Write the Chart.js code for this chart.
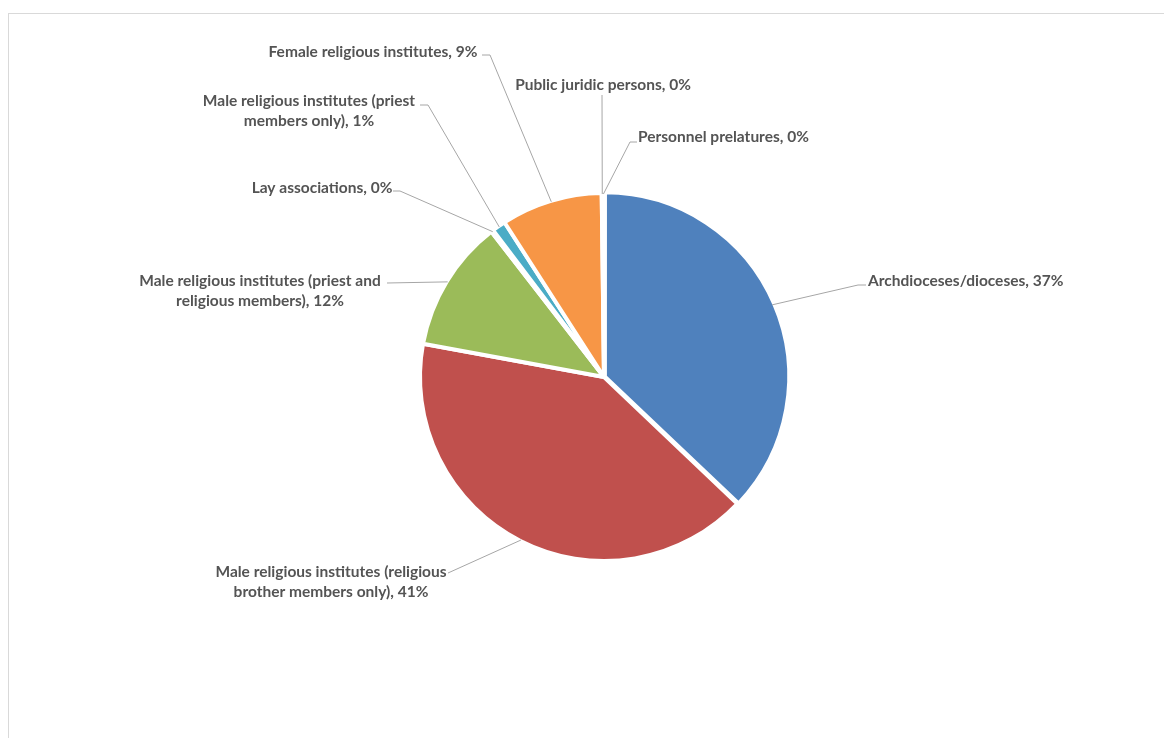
<!DOCTYPE html>
<html>
<head>
<meta charset="utf-8">
<script src="https://cdn.jsdelivr.net/npm/chart.js@4.4.1/dist/chart.umd.min.js"></script>
<style>
    html, body { margin: 0; padding: 0; background: #fff; overflow: hidden; }
    #frame {
        position: absolute; left: 8px; top: 13px; width: 1200px; height: 800px;
        border: 1px solid #d9d9d9; box-sizing: border-box;
    }
    #wrap { position: absolute; left: 0; top: 0; width: 1164px; height: 738px; }
</style>
</head>
<body>
<div id="frame"></div>
<div id="wrap"><canvas id="pieChart"></canvas></div>
<script>
const categories = [
    'Archdioceses/dioceses',
    'Male religious institutes (religious brother members only)',
    'Male religious institutes (priest and religious members)',
    'Lay associations',
    'Male religious institutes (priest members only)',
    'Female religious institutes',
    'Public juridic persons',
    'Personnel prelatures'
];
const shares = [37.1, 40.8, 11.6, 0.2, 1.2, 8.9, 0.1, 0.1];
const colors = ['#4f81bd', '#c0504d', '#9bbb59', '#8064a2', '#4bacc6', '#f79646', '#2c4d75', '#772c2a'];

// label text lines (wrapped as in the original)
const labelLines = [
    ['Archdioceses/dioceses, {p}'],
    ['Male religious institutes (religious', 'brother members only), {p}'],
    ['Male religious institutes (priest and', 'religious members), {p}'],
    ['Lay associations, {p}'],
    ['Male religious institutes (priest', 'members only), {p}'],
    ['Female religious institutes, {p}'],
    ['Public juridic persons, {p}'],
    ['Personnel prelatures, {p}']
];

// label placement relative to pie centre: text anchor, align, leader end points
const labelLayout = [
    { tx: 264, ty: -96, align: 'left', pts: [[254, -92], [262, -92]] },
    { tx: -273, ty: 195, align: 'center', pts: [[-156, 196]] },
    { tx: -344, ty: -96, align: 'center', pts: [[-217, -94]] },
    { tx: -282, ty: -189, align: 'center', pts: [[-204, -186], [-211, -186]] },
    { tx: -295, ty: -276, align: 'center', pts: [[-176, -272], [-184, -272]] },
    { tx: -231, ty: -325, align: 'center', pts: [[-114, -322], [-122, -322]] },
    { tx: -1, ty: -292, align: 'center', pts: [[-2, -282]] },
    { tx: 34, ty: -240, align: 'left', pts: [[26, -235], [33, -235]] }
];

const total = shares.reduce((a, b) => a + b, 0);

const leaderLabels = {
    id: 'leaderLabels',
    afterDatasetsDraw(chart) {
        const c = chart.ctx;
        const arcs = chart.getDatasetMeta(0).data;
        c.save();
        arcs.forEach((arc, i) => {
            const p = arc.getProps(['x', 'y', 'startAngle', 'endAngle', 'outerRadius'], true);
            const cx = chart.chartArea.left + chart.chartArea.width / 2;
            const cy = chart.chartArea.top + chart.chartArea.height / 2;
            const mid = (p.startAngle + p.endAngle) / 2;
            const lay = labelLayout[i];
            const ax = p.x + Math.cos(mid) * (p.outerRadius - 1);
            const ay = p.y + Math.sin(mid) * (p.outerRadius - 1);

            c.strokeStyle = '#a6a6a6';
            c.lineWidth = 1;
            c.beginPath();
            c.moveTo(ax, ay);
            lay.pts.forEach(pt => c.lineTo(cx + pt[0], cy + pt[1]));
            c.stroke();

            const pct = Math.round(shares[i] / total * 100) + '%';
            c.fillStyle = '#545454';
            c.font = 'bold 15.5px Lato';
            c.textAlign = lay.align;
            c.textBaseline = 'middle';
            labelLines[i].forEach((line, k) => {
                c.fillText(line.replace('{p}', pct), cx + lay.tx, cy + lay.ty + k * 20);
            });
        });
        c.restore();
    }
};

const ctx = document.getElementById('pieChart').getContext('2d');
const pieChart = new Chart(ctx, {
    type: 'pie',
    data: {
        labels: categories,
        datasets: [{
            data: shares,
            backgroundColor: colors,
            borderColor: '#ffffff',
            borderWidth: 4,
            offset: [4, 0, 0, 0, 0, 0, 0, 0]
        }]
    },
    options: {
        responsive: true,
        maintainAspectRatio: false,
        animation: false,
        radius: 184,
        layout: { padding: { left: 418, right: 374, top: 191, bottom: 175 } },
        plugins: {
            legend: { display: false },
            tooltip: { enabled: false }
        }
    },
    plugins: [leaderLabels]
});
</script>
</body>
</html>
